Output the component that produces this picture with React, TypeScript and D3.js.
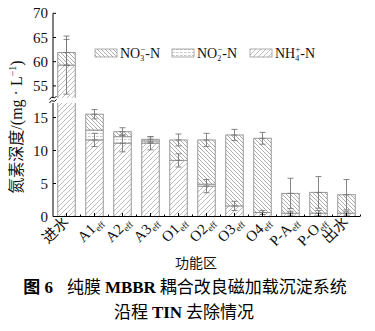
import React from "react";
import * as d3 from "d3";

const categories = ["进水", "A1", "A2", "A3", "O1", "O2", "O3", "O4", "P-A", "P-O", "出水"];
const hasEff = [false, true, true, true, true, true, true, true, true, true, false];
const nh4 = [59.3, 11.6, 11.1, 11.1, 8.5, 4.6, 1.6, 0.6, 0.5, 0.5, 0.5];
const no2 = [0, 1.5, 1.0, 0.35, 0.0, 0.3, 0.0, 0.0, 0.0, 0.0, 0.0];
const no3 = [2.6, 2.4, 0.75, 0.25, 3.1, 6.7, 10.75, 11.25, 3.0, 3.15, 2.8];
const errNh4 = [6.0, 1.0, 1.3, 1.0, 1.0, 1.0, 0.7, 0.3, 0.3, 0.4, 0.3];
const errTot = [2.7, 0.7, 0.6, 0.4, 0.9, 1.0, 0.85, 0.9, 2.3, 2.4, 2.3];
const upperTicks = [55, 60, 65, 70];
const lowerTicks = [0, 5, 10, 15];

const SERIF = "'Liberation Serif', 'Times New Roman', serif";
const CJK = "'Noto Sans CJK SC', sans-serif";

export default function App() {
  const x = d3.scaleBand<string>().domain(categories).range([53, 360]).paddingInner(0.375).paddingOuter(0.17);
  const yUp = d3.scaleLinear().domain([52.5, 70]).range([98, 13.3]);
  const yLo = d3.scaleLinear().domain([0, 17.2]).range([216.5, 103]);
  const bw = x.bandwidth();
  const ey = (v: number) => (v > 17.2 ? yUp(Math.max(v, 52.5)) : yLo(Math.max(v, 0)));

  const segRect = (i: number, lo: number, hi: number, fill: string, key: string) => {
    if (hi - lo <= 0) return null;
    const x0 = x(categories[i])!;
    if (lo >= 52.5 || hi <= 17.2) {
      const y0 = ey(hi), y1 = ey(lo);
      return (
        <g key={key}>
          <rect x={x0} y={y0} width={bw} height={y1 - y0} fill="#fff" />
          <rect x={x0} y={y0} width={bw} height={y1 - y0} fill={fill} stroke="#999" strokeWidth={1} />
        </g>
      );
    }
    const uTop = yUp(hi), uBot = yUp(52.5);
    const lTop = yLo(17.2), lBot = yLo(lo);
    return (
      <g key={key}>
        <rect x={x0} y={uTop} width={bw} height={uBot - uTop} fill="#fff" />
        <rect x={x0} y={uTop} width={bw} height={uBot - uTop} fill={fill} />
        <path d={`M${x0},${uBot}V${uTop}H${x0 + bw}V${uBot}`} fill="none" stroke="#999" />
        <rect x={x0} y={lTop} width={bw} height={lBot - lTop} fill="#fff" />
        <rect x={x0} y={lTop} width={bw} height={lBot - lTop} fill={fill} />
        <path d={`M${x0},${lTop}V${lBot}H${x0 + bw}V${lTop}`} fill="none" stroke="#999" />
      </g>
    );
  };

  const errBar = (i: number, v: number, e: number, key: string) => {
    const cx = x(categories[i])! + bw / 2;
    const yt = ey(v + e), yb = ey(v - e);
    return (
      <g key={key} stroke="#777" strokeWidth={0.9}>
        <line x1={cx} x2={cx} y1={yt} y2={yb} />
        <line x1={cx - 3} x2={cx + 3} y1={yt} y2={yt} />
        <line x1={cx - 3} x2={cx + 3} y1={yb} y2={yb} />
        <line x1={cx - 3} x2={cx + 3} y1={ey(v)} y2={ey(v)} />
      </g>
    );
  };

  const legendItems = [
    { x: 95, fill: "url(#pNO3)", sub: "3", sup: "−", base: "NO" },
    { x: 172, fill: "url(#pNO2)", sub: "2", sup: "−", base: "NO" },
    { x: 250, fill: "url(#pNH4)", sub: "4", sup: "+", base: "NH" },
  ];

  return (
    <svg width={375} height={331} style={{ position: "absolute", left: 0, top: 0, background: "#fff" }}>
      <defs>
        <pattern id="pNO3" patternUnits="userSpaceOnUse" width={4} height={4}>
          <path d="M0,0 L4,4 M-1,3 L1,5 M3,-1 L5,1" stroke="#8a8a8a" strokeWidth={0.7} />
        </pattern>
        <pattern id="pNH4" patternUnits="userSpaceOnUse" width={5} height={5}>
          <path d="M0,5 L5,0 M-1,1 L1,-1 M4,6 L6,4" stroke="#a0a0a0" strokeWidth={0.7} />
        </pattern>
        <pattern id="pNO2" patternUnits="userSpaceOnUse" width={4} height={3}>
          <path d="M0,1.5 L2.6,1.5" stroke="#b0b0b0" strokeWidth={0.7} />
        </pattern>
      </defs>

      {categories.map((c, i) => {
        const a = nh4[i], b = a + no2[i], t = b + no3[i];
        return (
          <g key={c}>
            {segRect(i, 0, a, "url(#pNH4)", "nh4")}
            {segRect(i, a, b, "url(#pNO2)", "no2")}
            {segRect(i, b, t, "url(#pNO3)", "no3")}
          </g>
        );
      })}
      <rect x={x(categories[0])! - 1} y={98.5} width={bw + 2} height={4} fill="#fff" />

      {categories.map((c, i) => (
        <g key={"e" + c}>
          {errBar(i, nh4[i], errNh4[i], "en")}
          {errBar(i, nh4[i] + no2[i] + no3[i], errTot[i], "et")}
        </g>
      ))}

      <g stroke="#000" strokeWidth={1}>
        <line x1={53} x2={53} y1={13.3} y2={97} />
        <line x1={53} x2={53} y1={103} y2={216.5} />
        <path d="M49.5,99.5 Q51.5,96 53,97.5 T56.5,96" fill="none" />
        <path d="M49.5,103 Q51.5,99.5 53,101 T56.5,99.5" fill="none" />
        {upperTicks.map((t) => (
          <line key={"u" + t} x1={53} x2={56} y1={yUp(t)} y2={yUp(t)} />
        ))}
        {lowerTicks.map((t) => (
          <line key={"l" + t} x1={53} x2={56} y1={yLo(t)} y2={yLo(t)} />
        ))}
      </g>
      <g fontFamily={SERIF} fontSize={15} textAnchor="end" fill="#111">
        {upperTicks.map((t) => (
          <text key={"ut" + t} x={48} y={yUp(t) + 5}>{t}</text>
        ))}
        {lowerTicks.map((t) => (
          <text key={"lt" + t} x={48} y={yLo(t) + 5}>{t}</text>
        ))}
      </g>

      <g stroke="#000" strokeWidth={1}>
        <line x1={53} x2={360} y1={216.5} y2={216.5} />
        {categories.map((c) => {
          const cx = x(c)! + bw / 2;
          return <line key={"t" + c} x1={cx} x2={cx} y1={216.5} y2={213} />;
        })}
        {categories.map((c) => {
          const cx = x(c)! + x.step() / 2 + bw / 2;
          return <line key={"m" + c} x1={cx} x2={cx} y1={216.5} y2={214.5} />;
        })}
      </g>
      {categories.map((c, i) => {
        const cx = x(c)! + bw / 2;
        const ax = cx + (hasEff[i] ? 9 : 3);
        const ay = 223;
        const cjk = /[\u4e00-\u9fff]/.test(c);
        return (
          <text
            key={"xl" + c}
            transform={`translate(${ax},${ay}) rotate(-45)`}
            textAnchor="end"
            fontFamily={cjk ? CJK : SERIF}
            fontSize={15}
            fill="#111"
          >
            {c}
            {hasEff[i] && (
              <tspan fontFamily={SERIF} fontSize={9} dy={3}>eff</tspan>
            )}
          </text>
        );
      })}

      {legendItems.map((it) => (
        <g key={it.base + it.sub}>
          <rect x={it.x} y={49} width={22} height={8} fill={it.fill} stroke="#999" strokeWidth={0.8} />
          <text x={it.x + 25} y={58} fontFamily={SERIF} fontSize={14} fill="#111">
            {it.base}
            <tspan fontSize={8} dy={3}>{it.sub}</tspan>
            <tspan fontSize={9} dy={-9} dx={-4}>{it.sup}</tspan>
            <tspan dy={6}>-N</tspan>
          </text>
        </g>
      ))}

      <text
        transform="translate(22,127) rotate(-90)"
        textAnchor="middle"
        fontSize={16}
        fill="#111"
      >
        <tspan fontFamily={CJK}>氮素深度</tspan>
        <tspan fontFamily={SERIF}>/(mg · L</tspan>
        <tspan fontFamily={SERIF} fontSize={10} dy={-6}>−1</tspan>
        <tspan fontFamily={SERIF} dy={6}>)</tspan>
      </text>
      <text x={196} y={268} textAnchor="middle" fontFamily={CJK} fontSize={14} fill="#111">功能区</text>

      <text x={185} y={293} textAnchor="middle" fontSize={17} fill="#000" fontFamily={CJK}>
        <tspan fontWeight="bold">图</tspan>
        <tspan fontFamily={SERIF} fontWeight="bold"> 6</tspan>
        <tspan dx={14}>纯膜 </tspan>
        <tspan fontFamily={SERIF} fontWeight="bold">MBBR</tspan>
        <tspan> 耦合改良磁加载沉淀系统</tspan>
      </text>
      <text x={184} y={318} textAnchor="middle" fontSize={17} fill="#000" fontFamily={CJK}>
        <tspan>沿程 </tspan>
        <tspan fontFamily={SERIF} fontWeight="bold">TIN</tspan>
        <tspan> 去除情况</tspan>
      </text>
    </svg>
  );
}
